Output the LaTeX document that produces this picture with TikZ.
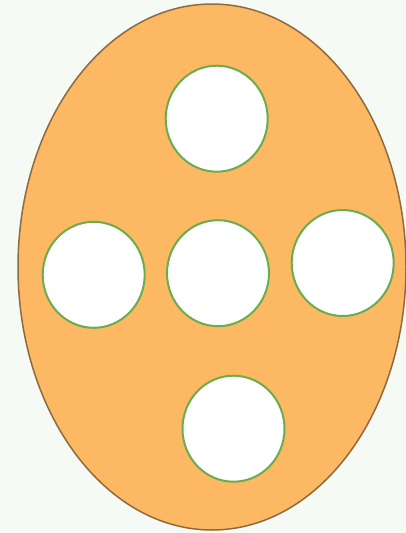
\documentclass[tikz,border=0pt]{standalone}
\usetikzlibrary{shapes.geometric}
\definecolor{bgc}{HTML}{F5FAF5}
\definecolor{eggfill}{HTML}{FDB863}
\definecolor{eggline}{HTML}{8E6A3E}
\definecolor{holeline}{HTML}{6AAD4F}
\tikzset{
  egg/.style={ellipse, draw=eggline, fill=eggfill, line width=1.5pt, inner sep=0pt, minimum width=388pt, minimum height=526pt},
  hole/.style={ellipse, draw=holeline, fill=white, line width=2pt, inner sep=0pt, minimum width=102pt, minimum height=106pt}
}
\begin{document}
\begin{tikzpicture}[x=1pt,y=-1pt]
\fill[bgc] (0,0) rectangle (406,533);
\useasboundingbox (0,0) rectangle (406,533);
\node[egg] (egg) at (212,267) {};
\node[hole] (top) at (216.7,118.7) {};
\node[hole] (left) at (93.7,274.8) {};
\node[hole] (center) at (218,273.2) {};
\node[hole] (right) at (342.7,263) {};
\node[hole] (bottom) at (233.5,428.7) {};
\end{tikzpicture}
\end{document}
